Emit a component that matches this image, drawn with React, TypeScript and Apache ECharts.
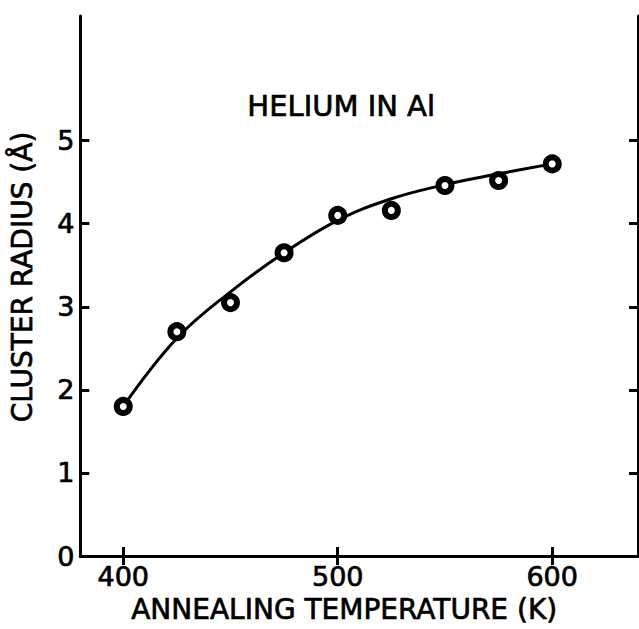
import React, { useEffect, useRef } from "react";
import * as echarts from "echarts";

const temps = [400, 425, 450, 475, 500, 525, 550, 575, 600];
const radii = [1.8, 2.7, 3.05, 3.65, 4.1, 4.16, 4.46, 4.52, 4.72];

const curveT = [400, 425, 450, 475, 500, 525, 550, 575, 600];
const curveR = [1.8, 2.62, 3.18, 3.65, 4.04, 4.3, 4.47, 4.6, 4.72];

const xTicks = [400, 500, 600];
const yTicks = [0, 1, 2, 3, 4, 5];
const yTicksRight = [1, 2, 3, 4, 5];

const xTitle = "ANNEALING TEMPERATURE (K)";
const yTitle = "CLUSTER RADIUS (Å)";
const annotation = "HELIUM IN Al";

const FONT = "DejaVu Sans";

export default function App() {
  const ref = useRef<HTMLDivElement>(null);
  useEffect(() => {
    if (!ref.current) return;
    const chart = echarts.init(ref.current, undefined, { renderer: "svg" });
    const axisLine = { show: true, lineStyle: { color: "#000", width: 3 } };
    const tickBase = { show: true, inside: true, length: 9, lineStyle: { color: "#000", width: 3 } };
    const labelBase = {
      color: "#000",
      fontSize: 27,
      fontFamily: FONT,
      textBorderColor: "#000",
      textBorderWidth: 0.7,
    };
    chart.setOption({
      animation: false,
      backgroundColor: "#fff",
      grid: { left: 80, right: 1, top: 16, bottom: 73 },
      xAxis: [
        {
          type: "value",
          position: "bottom",
          min: 380,
          max: 640,
          axisLine,
          axisTick: { ...tickBase, customValues: xTicks },
          axisLabel: { ...labelBase, customValues: xTicks, margin: 7 },
          splitLine: { show: false },
          name: xTitle,
          nameLocation: "middle",
          nameGap: 20,
          nameTextStyle: { ...labelBase, fontSize: 28, padding: [0, 30, 0, 0] },
        },
        {
          type: "value",
          position: "top",
          min: 380,
          max: 640,
          axisLine,
          axisTick: { ...tickBase, customValues: xTicks },
          axisLabel: { show: false },
          splitLine: { show: false },
        },
      ],
      yAxis: [
        {
          type: "value",
          position: "left",
          min: 0,
          max: 6.5,
          axisLine,
          axisTick: { ...tickBase, customValues: yTicks },
          axisLabel: { ...labelBase, customValues: yTicks, margin: 6 },
          splitLine: { show: false },
          name: yTitle,
          nameLocation: "middle",
          nameGap: 44,
          nameRotate: 90,
          nameTextStyle: { ...labelBase, fontSize: 28, padding: [0, 0, 0, 18] },
        },
        {
          type: "value",
          position: "right",
          min: 0,
          max: 6.5,
          axisLine,
          axisTick: { ...tickBase, customValues: yTicksRight },
          axisLabel: { show: false },
          splitLine: { show: false },
        },
      ],
      graphic: [
        {
          type: "text",
          left: 247,
          top: 91,
          style: {
            text: annotation,
            fill: "#000",
            fontSize: 29,
            fontFamily: FONT,
            stroke: "#000",
            lineWidth: 0.7,
          },
        },
      ],
      series: [
        {
          type: "line",
          data: curveT.map((t, i) => [t, curveR[i]]),
          smooth: 0.4,
          symbol: "none",
          lineStyle: { color: "#000", width: 3 },
          z: 2,
        },
        {
          type: "scatter",
          data: temps.map((t, i) => [t, radii[i]]),
          symbol: "circle",
          symbolSize: 13,
          itemStyle: { color: "#fff", borderColor: "#000", borderWidth: 6, opacity: 1 },
          z: 3,
        },
      ],
    });
    return () => chart.dispose();
  }, []);
  return (
    <div
      ref={ref}
      style={{ position: "fixed", left: 0, top: 0, width: 639, height: 629 }}
    />
  );
}
